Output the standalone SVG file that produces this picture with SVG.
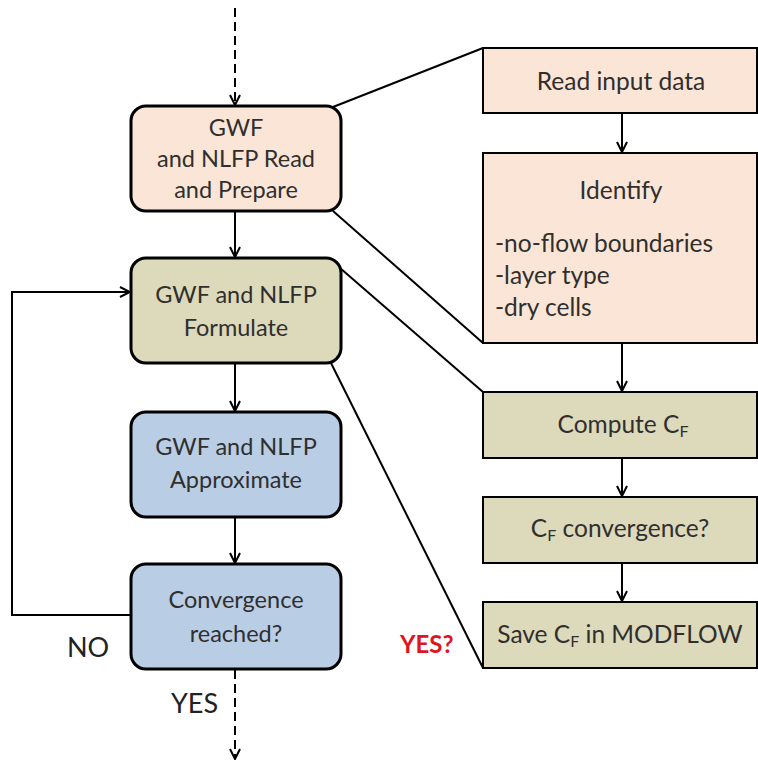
<svg xmlns="http://www.w3.org/2000/svg" width="758" height="762" viewBox="0 0 758 762">
<defs>
<marker id="arr" viewBox="0 0 12 12" refX="11" refY="6" markerWidth="12" markerHeight="12" markerUnits="userSpaceOnUse" orient="auto">
<path d="M1,1 L11,6 L1,11" fill="none" stroke="#000" stroke-width="2"/>
</marker>
</defs>
<style>
text{font-family:Lato,"Open Sans","Liberation Sans",sans-serif;fill:#2f2f2f;font-size:23.5px}
.r{font-size:24.5px}
.c{text-anchor:middle}
.lb{stroke:#000;stroke-width:3}
.rb{stroke:#000;stroke-width:2}
.peach{fill:#FBE5D6}
.olive{fill:#DDD9BB}
.blue{fill:#B9CDE5}
.ln{fill:none;stroke:#000;stroke-width:2}
.ar{fill:none;stroke:#000;stroke-width:2;marker-end:url(#arr)}
.da{fill:none;stroke:#000;stroke-width:2;stroke-dasharray:9 5;marker-end:url(#arr)}
.sub{font-size:16px}
</style>
<rect width="758" height="762" fill="#fff"/>
<g id="connectors">
<path class="da" d="M235,8 V105"/>
<path class="da" d="M235,670 V759"/>
<path class="ar" d="M235,212 V257"/>
<path class="ar" d="M235,364 V411"/>
<path class="ar" d="M235,518 V563"/>
<path class="ar" d="M131,615 H12 V292 H130"/>
<path class="ar" d="M622,113 V152"/>
<path class="ar" d="M622,343 V391"/>
<path class="ar" d="M622,458 V496"/>
<path class="ar" d="M622,563 V601"/>
<path class="ln" d="M333,107 L483,48"/>
<path class="ln" d="M333,211 L483,343"/>
<path class="ln" d="M340,268 L483,392"/>
<path class="ln" d="M331,363 L483,668"/>
</g>
<g id="n1">
<rect class="lb peach" x="131" y="106" width="210" height="105" rx="15"/>
<text class="c" x="236" y="136">GWF</text>
<text class="c" x="236" y="167">and NLFP Read</text>
<text class="c" x="236" y="198">and Prepare</text>
</g>
<g id="n2">
<rect class="lb olive" x="131" y="258" width="210" height="105" rx="15"/>
<text class="c" x="236" y="303">GWF and NLFP</text>
<text class="c" x="236" y="336">Formulate</text>
</g>
<g id="n3">
<rect class="lb blue" x="131" y="412" width="210" height="105" rx="15"/>
<text class="c" x="236" y="455">GWF and NLFP</text>
<text class="c" x="236" y="488">Approximate</text>
</g>
<g id="n4">
<rect class="lb blue" x="131" y="564" width="210" height="105" rx="15"/>
<text class="c" x="236" y="608">Convergence</text>
<text class="c" x="236" y="642">reached?</text>
</g>
<g id="r1">
<rect class="rb peach" x="483" y="48" width="274" height="65"/>
<text class="c r" x="621" y="90">Read input data</text>
</g>
<g id="r2">
<rect class="rb peach" x="483" y="153" width="274" height="190"/>
<text class="c r" x="621" y="199">Identify</text>
<text class="r" x="495" y="252">-no-flow boundaries</text>
<text class="r" x="495" y="284">-layer type</text>
<text class="r" x="495" y="316">-dry cells</text>
</g>
<g id="r3">
<rect class="rb olive" x="483" y="392" width="274" height="66"/>
<text class="c r" x="623" y="433">Compute C<tspan class="sub" dy="4">F</tspan></text>
</g>
<g id="r4">
<rect class="rb olive" x="483" y="497" width="274" height="66"/>
<text class="c r" x="620" y="537">C<tspan class="sub" dy="4">F</tspan><tspan dy="-4"> convergence?</tspan></text>
</g>
<g id="r5">
<rect class="rb olive" x="483" y="602" width="274" height="66"/>
<text class="c r" x="620" y="643">Save C<tspan class="sub" dy="4">F</tspan><tspan dy="-4"> in MODFLOW</tspan></text>
</g>
<g id="labels">
<text x="67" y="657" style="font-size:27px;fill:#222">NO</text>
<text x="171" y="713" style="font-size:27px;fill:#222">YES</text>
<text x="400" y="653" style="font-size:24px;font-weight:bold;fill:#E0141E">YES?</text>
</g>
</svg>
